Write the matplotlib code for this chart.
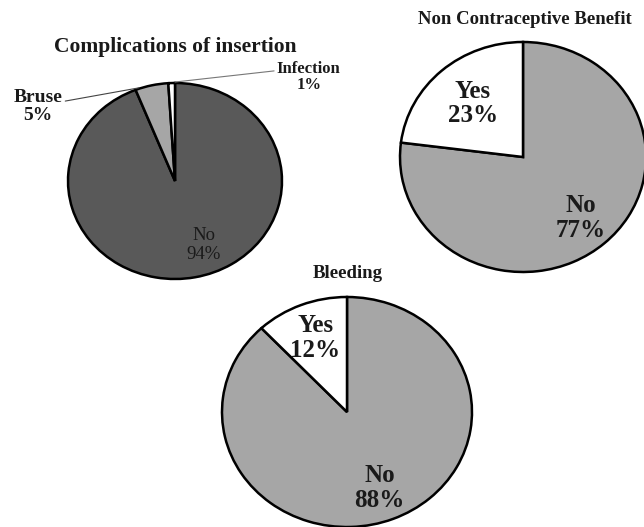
import matplotlib
matplotlib.use("Agg")
import matplotlib.pyplot as plt
import numpy as np

plt.rcParams['font.family'] = ['Liberation Serif', 'DejaVu Serif']

# Data
comp_labels = ["No", "Bruse", "Infection"]
comp_values = [94, 5, 1]
comp_colors = ["#595959", "#a6a6a6", "#ffffff"]

ncb_labels = ["No", "Yes"]
ncb_values = [77, 23]
ncb_colors = ["#a6a6a6", "#ffffff"]

bleed_labels = ["No", "Yes"]
bleed_values = [88, 12]
bleed_colors = ["#a6a6a6", "#ffffff"]

W, H = 644, 527
fig = plt.figure(figsize=(W / 100, H / 100), dpi=100)
fig.patch.set_facecolor("white")


def make_ax(cx, cy, rx, ry):
    return fig.add_axes([(cx - rx) / W, (H - (cy + ry)) / H, 2 * rx / W, 2 * ry / H])


def finish(ax):
    ax.set_xlim(-1, 1)
    ax.set_ylim(-1, 1)
    ax.set_aspect('auto')
    ax.axis('off')


def inner_labels(ax, wedges, labels, values, dists, **kw):
    for w, l, v, d in zip(wedges, labels, values, dists):
        ang = np.deg2rad((w.theta1 + w.theta2) / 2)
        ax.text(d * np.cos(ang), d * np.sin(ang), f"{l}\n{v}%", ha='center', va='center', **kw)


wedge_kw = dict(edgecolor="black", linewidth=1.8)
lab_kw = dict(fontsize=18, fontweight='bold', color="#1a1a1a", linespacing=1.1)

# --- Pie 1: Complications of insertion ---
ax1 = make_ax(175, 181, 107, 98)
w1, _ = ax1.pie(comp_values, colors=comp_colors, startangle=90, counterclock=False,
                wedgeprops=wedge_kw, radius=1, frame=True)
finish(ax1)
for w in w1:
    w.set_clip_on(False)
ax1.text(0.27, -0.65, f"{comp_labels[0]}\n{comp_values[0]}%", ha='center', va='center',
         fontsize=13.5, color="#1a1a1a", linespacing=1.15)
ax1.annotate(f"{comp_labels[1]}\n{comp_values[1]}%", xy=(-0.34, 0.95), xytext=(-1.28, 0.76),
             ha='center', va='center', fontsize=14, fontweight='bold', annotation_clip=False,
             color="#1a1a1a", linespacing=1.1,
             arrowprops=dict(arrowstyle='-', color='#444444', lw=0.8,
                             shrinkA=0, shrinkB=0, relpos=(1.0, 0.64)))
ax1.annotate(f"{comp_labels[2]}\n{comp_values[2]}%", xy=(0.0, 1.01), xytext=(1.25, 1.06),
             ha='center', va='center', fontsize=12, fontweight='bold', annotation_clip=False,
             color="#1a1a1a", linespacing=1.05,
             arrowprops=dict(arrowstyle='-', color='#777777', lw=0.8,
                             shrinkA=0, shrinkB=0, relpos=(0.0, 0.7)))
fig.text(175 / W, 1 - 47 / H, "Complications of insertion", ha='center', va='center',
         fontsize=15.5, fontweight='bold', color="#1a1a1a")

# --- Pie 2: Non Contraceptive Benefit ---
ax2 = make_ax(523, 157, 123, 115)
w2, _ = ax2.pie(ncb_values, colors=ncb_colors, startangle=90, counterclock=False,
                wedgeprops=wedge_kw, frame=True)
finish(ax2)
inner_labels(ax2, w2, ncb_labels, ncb_values, [0.71, 0.62], **lab_kw)
fig.text(525 / W, 1 - 20 / H, "Non Contraceptive Benefit", ha='center', va='center',
         fontsize=13.5, fontweight='bold', color="#1a1a1a")

# --- Pie 3: Bleeding ---
ax3 = make_ax(347, 412, 125, 115)
w3, _ = ax3.pie(bleed_values, colors=bleed_colors, startangle=90, counterclock=False,
                wedgeprops=wedge_kw, frame=True)
finish(ax3)
inner_labels(ax3, w3, bleed_labels, bleed_values, [0.71, 0.69], **lab_kw)
fig.text(348 / W, 1 - 273 / H, "Bleeding", ha='center', va='center',
         fontsize=13.5, fontweight='bold', color="#1a1a1a")

fig.savefig("out.png", dpi=100, facecolor="white")
